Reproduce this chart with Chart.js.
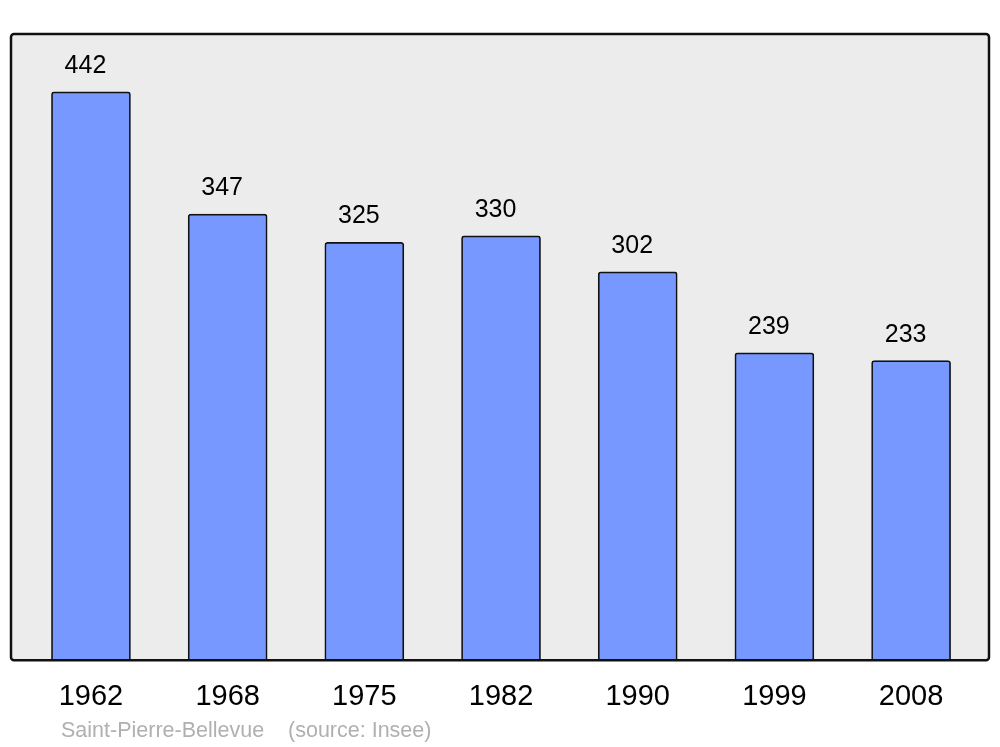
<!DOCTYPE html>
<html>
<head>
<meta charset="utf-8">
<script src="https://cdn.jsdelivr.net/npm/chart.js@4/dist/chart.umd.min.js"></script>
<style>
  html, body { margin: 0; padding: 0; background: #fff; }
  #wrap { width: 1000px; height: 747px; }
</style>
</head>
<body>
<div id="wrap"><canvas id="popChart" width="1000" height="747"></canvas></div>
<script>
const years = ['1962', '1968', '1975', '1982', '1990', '1999', '2008'];
const population = [442, 347, 325, 330, 302, 239, 233];
const footerText = 'Saint-Pierre-Bellevue    (source: Insee)';

// grey frame behind the plot, value labels and the source line
const framePlugin = {
    id: 'frame',
    beforeDatasetsDraw(chart) {
        const { ctx, chartArea: a } = chart;
        ctx.save();
        ctx.beginPath();
        ctx.roundRect(a.left, a.top, a.right - a.left, a.bottom - a.top, 3);
        ctx.fillStyle = '#ececec';
        ctx.fill();
        ctx.restore();
    },
    afterDatasetsDraw(chart) {
        const { ctx, chartArea: a } = chart;
        ctx.save();
        ctx.beginPath();
        ctx.roundRect(a.left, a.top, a.right - a.left, a.bottom - a.top, 3);
        ctx.lineWidth = 2.5;
        ctx.strokeStyle = '#111';
        ctx.stroke();

        ctx.font = '25px "Liberation Sans", Arial, sans-serif';
        ctx.fillStyle = '#000';
        ctx.textAlign = 'center';
        ctx.textBaseline = 'alphabetic';
        // labels sit a little left of the bar centre in the original
        chart.getDatasetMeta(0).data.forEach((bar, i) => {
            ctx.fillText(String(population[i]), bar.x - 5.5, bar.y - 19);
        });

        ctx.font = '21.5px "Liberation Sans", Arial, sans-serif';
        ctx.fillStyle = '#b0b0b0';
        ctx.textAlign = 'left';
        ctx.fillText(footerText, 61, 737);
        ctx.restore();
    }
};

new Chart(document.getElementById('popChart').getContext('2d'), {
    type: 'bar',
    data: {
        datasets: [{
            data: population.map((v, i) => ({ x: i, y: v })),
            backgroundColor: '#7799ff',
            borderColor: '#111',
            borderWidth: 1.7,
            borderSkipped: 'bottom',
            borderRadius: { topLeft: 3, topRight: 3 },
            barThickness: 79
        }]
    },
    options: {
        responsive: false,
        animation: false,
        layout: { padding: { left: 11, right: 11, top: 34, bottom: 14 } },
        plugins: { legend: { display: false }, tooltip: { enabled: false } },
        scales: {
            x: {
                type: 'linear',
                offset: false,
                min: -0.585,
                max: 6.57,
                grid: { display: false, drawTicks: false },
                border: { display: false },
                afterBuildTicks: scale => { scale.ticks = years.map((_, i) => ({ value: i })); },
                ticks: {
                    autoSkip: false,
                    maxRotation: 0,
                    padding: 19,
                    color: '#000',
                    font: { family: '"Liberation Sans", Arial, sans-serif', size: 29 },
                    callback: v => years[v]
                }
            },
            y: {
                display: false,
                min: 0,
                max: 487
            }
        }
    },
    plugins: [framePlugin]
});
</script>
</body>
</html>
